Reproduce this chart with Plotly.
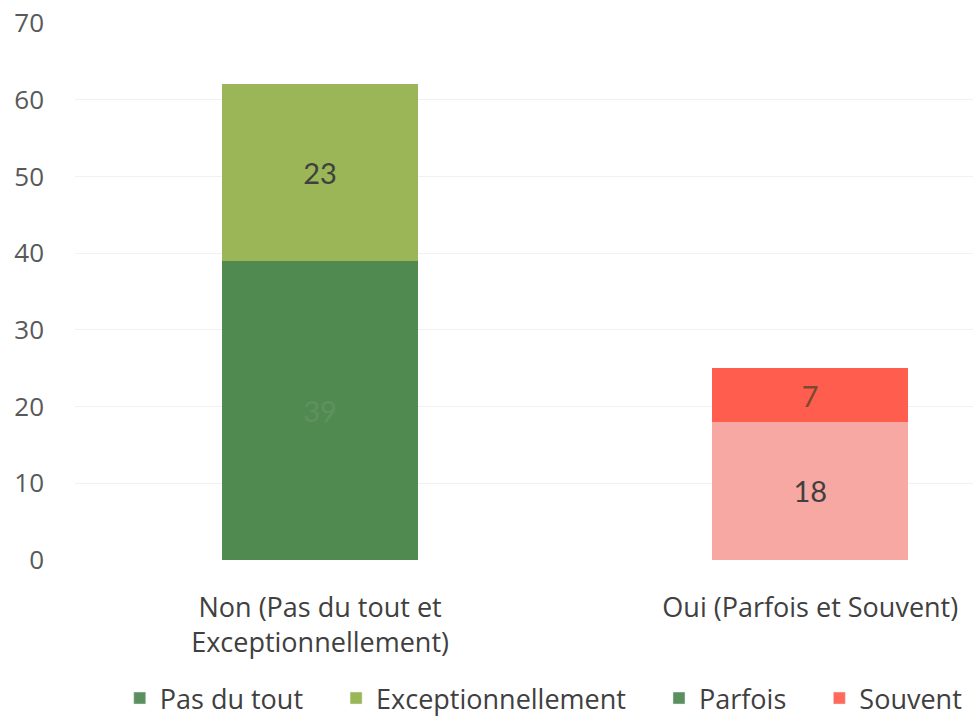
import plotly.graph_objects as go

categories = ["Non (Pas du tout et<br>Exceptionnellement)", "Oui (Parfois et Souvent)"]
series_names = ["Pas du tout", "Exceptionnellement", "Parfois", "Souvent"]
pas_du_tout = [39, None]
exceptionnellement = [23, None]
parfois = [None, 18]
souvent = [None, 7]
y_ticks = [0, 10, 20, 30, 40, 50, 60, 70]

bar_colors = ["#518a50", "#9bb656", "#f8a8a3", "#ff5e4e"]
legend_colors = ["#5b8f5e", "#9bb656", "#5b8f5e", "#ff6a5c"]
text_colors = ["#5f9060", "#404040", "#404040", "#7a4a30"]

fig = go.Figure()
for name, vals, bc, tc in zip(series_names, [pas_du_tout, exceptionnellement, parfois, souvent], bar_colors, text_colors):
    fig.add_trace(go.Bar(
        x=categories, y=vals, name=name, marker_color=bc, marker_line_width=0,
        text=[("" if v is None else str(v)) for v in vals],
        textposition="inside", insidetextanchor="middle",
        textfont=dict(size=29, color=tc, family="Lato"),
        showlegend=False,
    ))
pad = "\u00a0" * 4
for i, (name, lc) in enumerate(zip(series_names, legend_colors)):
    label = name + (pad if i < len(series_names) - 1 else "")
    fig.add_trace(go.Bar(x=[None], y=[None], name=label, marker_color=lc, showlegend=True))

fig.update_layout(
    barmode="stack",
    bargap=0.6,
    width=973, height=723,
    margin=dict(l=75, r=0, t=23, b=163),
    paper_bgcolor="white", plot_bgcolor="white",
    font=dict(family="Open Sans", size=22, color="#595959"),
    xaxis=dict(range=[-0.5, 1.332], showgrid=False, showline=False, ticks="",
               automargin=False,
               ticklabelstandoff=29, tickfont=dict(size=27, color="#404040", family="Open Sans")),
    yaxis=dict(range=[0, 70], tickvals=y_ticks, showgrid=True, gridcolor="#f1f1f1",
               automargin=False, ticklabeloverflow="allow",
               zeroline=False, showline=False, ticklabelstandoff=30,
               tickfont=dict(size=26, color="#595959", family="Open Sans")),
    legend=dict(orientation="h", x=0.522, xanchor="center",
                yref="container", y=0.0, yanchor="bottom",
                font=dict(size=27, color="#404040", family="Open Sans"),
                itemwidth=30, traceorder="normal"),
)

fig.write_html("out.html", config={"displayModeBar": False},
               post_script="document.body.style.margin='0';")
